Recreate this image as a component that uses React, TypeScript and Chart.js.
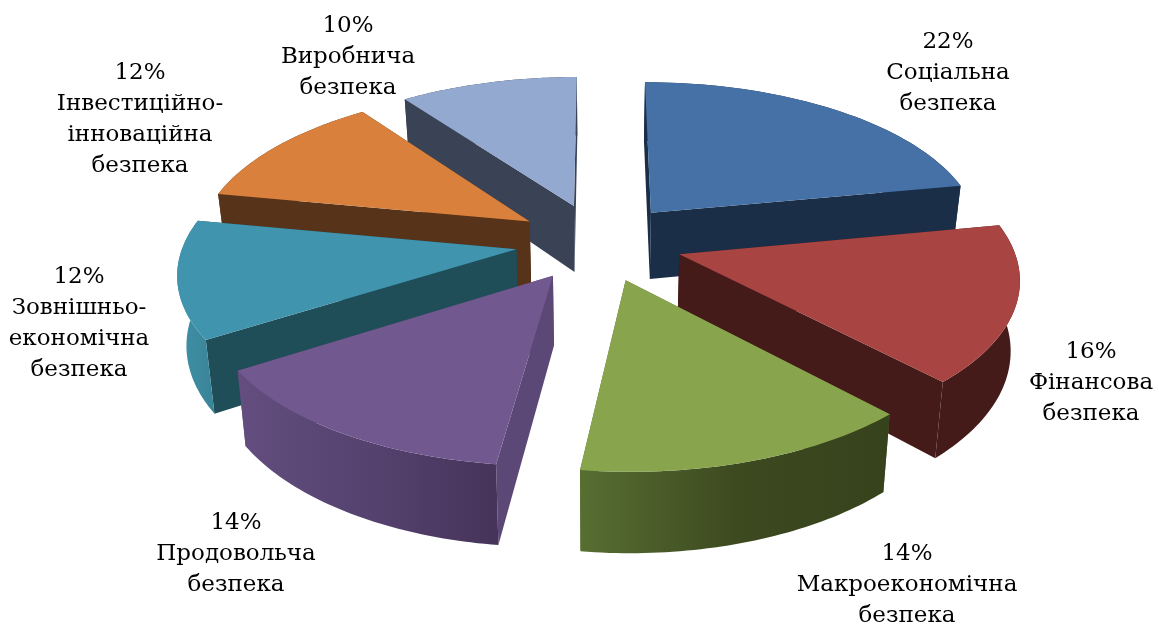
import React, { useEffect, useRef } from "react";
import { Chart, registerables } from "chart.js";

Chart.register(...registerables);

const categories = ["Соціальна безпека", "Фінансова безпека", "Макроекономічна безпека", "Продовольча безпека", "Зовнішньо-економічна безпека", "Інвестиційно-інноваційна безпека", "Виробнича безпека"];
const values = [22, 16, 14, 14, 12, 12, 10];
const labelLines = [
  ["22%", "Соціальна", "безпека"],
  ["16%", "Фінансова", "безпека"],
  ["14%", "Макроекономічна", "безпека"],
  ["14%", "Продовольча", "безпека"],
  ["12%", "Зовнішньо-", "економічна", "безпека"],
  ["12%", "Інвестиційно-", "інноваційна", "безпека"],
  ["10%", "Виробнича", "безпека"],
];
const labelAnchors = [[948, 42], [1091, 352], [907, 554], [236, 523], [79, 277], [140, 73], [348, 26]];
const topColors = ["#4571A6", "#A84442", "#88A44D", "#71588F", "#4094AE", "#D9813C", "#93A9CF"];
const radialColors = ["#1A2E47", "#451B19", "#576E31", "#5B4877", "#1F4D58", "#57331A", "#3A4256"];
const wallLeft = ["#1A2E47", "#451B19", "#576E31", "#634E7F", "#3F90A6", "#57331A", "#3A4256"];
const wallMid = ["#1A2E47", "#451B19", "#3D4A20", "#55426F", "#3D8A9F", "#57331A", "#3A4256"];
const wallRight = ["#1A2E47", "#451B19", "#36421B", "#46345A", "#3A8398", "#57331A", "#3A4256"];
const drawOrder = [6, 0, 5, 4, 1, 3, 2];

const CX = 599, CY = 242, RX = 341, RY = 159, P = 0.136, EXPLODE = 0.245, RADIUS = 0.975, DEPTH = 68, SHRINK = 0.978;

type Pt = [number, number];
const project = (u: number, v: number, bottom: boolean): Pt => {
  const w = 1 / (1 - P * v);
  const x = RX * u * w;
  const y = RY * v * w;
  return bottom ? [CX + x * SHRINK, CY + y + DEPTH * w] : [CX + x, CY + y];
};

const pie3d = {
  id: "pie3d",
  beforeDatasetDraw(chart: any) {
    const ctx: CanvasRenderingContext2D = chart.ctx;
    const arcs = chart.getDatasetMeta(0).data;
    const poly = (pts: Pt[], fill: string | CanvasGradient) => {
      ctx.beginPath();
      pts.forEach((p, i) => (i ? ctx.lineTo(p[0], p[1]) : ctx.moveTo(p[0], p[1])));
      ctx.closePath();
      ctx.fillStyle = fill;
      ctx.fill();
    };
    for (const i of drawOrder) {
      const a0 = arcs[i].startAngle + Math.PI / 2;
      const a1 = arcs[i].endAngle + Math.PI / 2;
      const mid = (a0 + a1) / 2;
      const ou = EXPLODE * Math.sin(mid), ov = -EXPLODE * Math.cos(mid);
      const N = 48;
      const rim: [number, number][] = [];
      for (let k = 0; k <= N; k++) {
        const t = a0 + ((a1 - a0) * k) / N;
        rim.push([ou + RADIUS * Math.sin(t), ov - RADIUS * Math.cos(t)]);
      }
      const topRim = rim.map(([u, v]) => project(u, v, false));
      const botRim = rim.map(([u, v]) => project(u, v, true));
      const apexT = project(ou, ov, false);
      const apexB = project(ou, ov, true);
      poly([apexT, topRim[N], botRim[N], apexB], radialColors[i]);
      poly([apexT, topRim[0], botRim[0], apexB], radialColors[i]);
      const xs = [...topRim, ...botRim].map((p) => p[0]);
      const g = ctx.createLinearGradient(Math.min(...xs), 0, Math.max(...xs), 0);
      g.addColorStop(0, wallLeft[i]);
      g.addColorStop(0.5, wallMid[i]);
      g.addColorStop(1, wallRight[i]);
      poly([...topRim, ...botRim.slice().reverse()], g);
      poly([apexT, ...topRim], topColors[i]);
    }
    return false;
  },
  afterDraw(chart: any) {
    const ctx: CanvasRenderingContext2D = chart.ctx;
    ctx.save();
    ctx.font = "23px 'DejaVu Serif'";
    ctx.fillStyle = "#000";
    ctx.textAlign = "center";
    ctx.textBaseline = "middle";
    labelLines.forEach((lines, i) => {
      lines.forEach((line, j) => {
        ctx.fillText(line, labelAnchors[i][0], labelAnchors[i][1] + j * 31);
      });
    });
    ctx.restore();
  },
};

export default function App() {
  const ref = useRef<HTMLCanvasElement>(null);
  useEffect(() => {
    const chart = new Chart(ref.current!, {
      type: "pie",
      data: { labels: categories, datasets: [{ data: values, backgroundColor: topColors, borderWidth: 0 }] },
      options: {
        animation: false,
        responsive: false,
        plugins: { legend: { display: false }, tooltip: { enabled: false } },
      },
      plugins: [pie3d],
    } as any);
    return () => chart.destroy();
  }, []);
  return (
    <div style={{ position: "fixed", left: 0, top: 0, background: "#fff" }}>
      <canvas ref={ref} width={1159} height={624} style={{ display: "block" }} />
    </div>
  );
}
